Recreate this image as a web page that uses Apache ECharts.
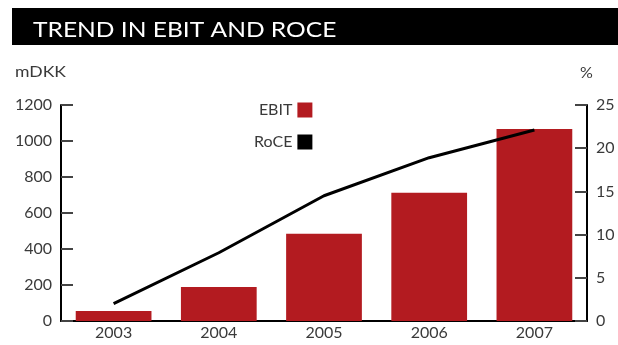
<!DOCTYPE html>
<html>
<head>
<meta charset="utf-8">
<script src="https://cdn.jsdelivr.net/npm/echarts@6/dist/echarts.min.js"></script>
<style>
  html, body { margin: 0; padding: 0; background: #fff; }
  #chart { width: 618px; height: 345px; }
</style>
</head>
<body>
<div id="chart"></div>
<script>
// Years on the category axis
const years = ['2003', '2004', '2005', '2006', '2007'];
// EBIT in million DKK (bars, left axis)
const ebit = [55, 189, 485, 712, 1067];
// Return on capital employed in percent (line, right axis)
const roce = [2.0, 7.9, 14.5, 18.9, 22.1];
// Axis ranges and steps
const ebitAxis = { min: 0, max: 1200, step: 200 };
const roceAxis = { min: 0, max: 25, step: 5 };

const FONT = 'Lato, "Open Sans", sans-serif';
const TEXT = '#3a3a3a';
const RED = '#b31b20';

const chart = echarts.init(document.getElementById('chart'), null, { renderer: 'canvas' });

chart.setOption({
  animation: false,
  textStyle: { fontFamily: FONT },
  graphic: [
    { type: 'rect', left: 12, top: 8, shape: { width: 606, height: 37 }, style: { fill: '#000' } },
    {
      type: 'text', x: 33, y: 30, scaleX: 1.17,
      style: { text: 'TREND IN EBIT AND ROCE', fill: '#fff', font: '21px ' + FONT, verticalAlign: 'middle' }
    },
    { type: 'text', x: 15, y: 72, scaleX: 1.1, style: { text: 'mDKK', fill: TEXT, font: '16px ' + FONT, verticalAlign: 'middle' } },
    { type: 'text', x: 580, y: 73, style: { text: '%', fill: TEXT, font: '16px ' + FONT, verticalAlign: 'middle' } }
  ],
  legend: {
    orient: 'vertical',
    left: 249,
    top: 97,
    align: 'right',
    itemWidth: 15,
    itemHeight: 15,
    itemGap: 16,
    textStyle: { fontFamily: FONT, fontSize: 16, color: TEXT },
    data: [
      { name: 'EBIT', icon: 'rect', itemStyle: { color: RED } },
      { name: 'RoCE', icon: 'rect', itemStyle: { color: '#000' } }
    ]
  },
  grid: { left: 61, right: 31, top: 105, bottom: 24, containLabel: false },
  xAxis: {
    type: 'category',
    data: years,
    axisLine: { lineStyle: { color: '#000', width: 2 } },
    axisTick: { show: false },
    axisLabel: { color: TEXT, fontSize: 16, fontFamily: FONT, margin: 4 }
  },
  yAxis: [
    {
      type: 'value',
      min: ebitAxis.min, max: ebitAxis.max, interval: ebitAxis.step,
      splitLine: { show: false },
      axisLine: { show: true, lineStyle: { color: '#000', width: 2 } },
      axisTick: { show: true, inside: true, length: 12, lineStyle: { color: '#444', width: 2 } },
      axisLabel: { color: TEXT, fontSize: 16, fontFamily: FONT, margin: 9, formatter: v => String(v) }
    },
    {
      type: 'value',
      position: 'right',
      min: roceAxis.min, max: roceAxis.max, interval: roceAxis.step,
      splitLine: { show: false },
      axisLine: { show: true, lineStyle: { color: '#000', width: 2 } },
      axisTick: { show: true, inside: true, length: 12, lineStyle: { color: '#444', width: 2 } },
      axisLabel: { color: TEXT, fontSize: 16, fontFamily: FONT, margin: 9, formatter: v => String(v) }
    }
  ],
  series: [
    {
      name: 'EBIT',
      type: 'bar',
      data: ebit,
      yAxisIndex: 0,
      barCategoryGap: '28%',
      itemStyle: { color: RED }
    },
    {
      name: 'RoCE',
      type: 'line',
      data: roce,
      yAxisIndex: 1,
      symbol: 'none',
      lineStyle: { color: '#000', width: 3 },
      itemStyle: { color: '#000' },
      z: 5
    }
  ]
});
</script>
</body>
</html>
